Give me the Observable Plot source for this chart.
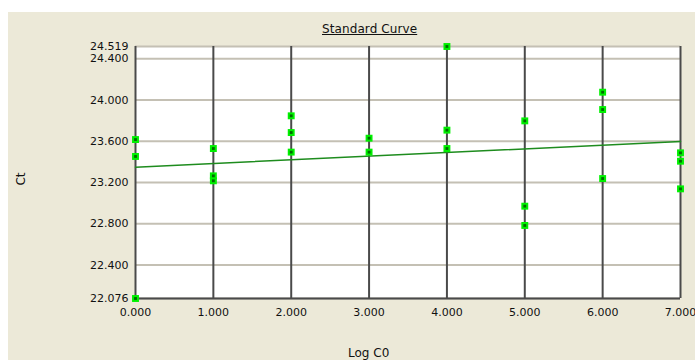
<!DOCTYPE html>
<html>
<head>
<meta charset="utf-8">
<script src="https://cdn.jsdelivr.net/npm/d3@7"></script>
<script src="https://cdn.jsdelivr.net/npm/@observablehq/plot@0.6"></script>
<style>
  html, body { margin: 0; padding: 0; background: #ffffff; }
  #panel { position: absolute; left: 8px; top: 12px; width: 687px; height: 348px; background: #ECE9D8; overflow: hidden; }
  #panel svg { position: absolute; left: 0; top: 0; background: transparent; }
  .lbl { position: absolute; font-family: "DejaVu Sans", sans-serif; font-size: 12px; color: #111; white-space: nowrap; }
</style>
</head>
<body>
<div id="panel">
  <div class="lbl" id="title" style="left:314px; top:10px; text-decoration: underline; letter-spacing:0.1px;">Standard Curve</div>
  <div class="lbl" id="ylab" style="left:6px; top:160px; transform: rotate(-90deg); transform-origin: center;">Ct</div>
  <div class="lbl" id="xlab" style="left:340px; top:334px;">Log C0</div>
</div>
<script>
// Standard curve data (Log C0 vs Ct)
const logC0 = [0, 0, 0, 1, 1, 1, 2, 2, 2, 3, 3, 4, 4, 4, 5, 5, 5, 6, 6, 6, 7, 7, 7];
const ct = [23.617, 23.453, 22.076, 23.530, 23.265, 23.217, 23.847, 23.685, 23.495,
            23.630, 23.495, 24.519, 23.708, 23.530, 23.798, 22.971, 22.784,
            24.076, 23.908, 23.239, 23.488, 23.407, 23.139];
// Regression line endpoints
const fitX = [0, 7];
const fitY = [23.349, 23.598];
// Axis ticks
const xTicks = [0, 1, 2, 3, 4, 5, 6, 7];
const yTicks = [22.076, 22.4, 22.8, 23.2, 23.6, 24.0, 24.4, 24.519];

const points = logC0.map((x, i) => ({x, y: ct[i]}));
const fit = fitX.map((x, i) => ({x, y: fitY[i]}));

const chart = Plot.plot({
  width: 687,
  height: 348,
  marginLeft: 127,
  marginRight: 15,
  marginTop: 34,
  marginBottom: 62,
  style: {background: "transparent", fontFamily: "DejaVu Sans, sans-serif", fontSize: "11px", color: "#111"},
  x: {domain: [0, 7]},
  y: {domain: [22.076, 24.519]},
  marks: [
    Plot.frame({fill: "white", stroke: null}),
    Plot.ruleY(yTicks, {stroke: "#c4c0b4", strokeWidth: 2}),
    Plot.ruleX(xTicks, {stroke: "#4a4a4a", strokeWidth: 2}),
    Plot.ruleY([22.076], {stroke: "#4a4a4a", strokeWidth: 2}),
    Plot.axisX({ticks: xTicks, tickSize: 0, tickPadding: 10, tickFormat: d3.format(".3f"), label: null, fontSize: 11, style: {letterSpacing: "0.6px"}}),
    Plot.axisY({ticks: yTicks, tickSize: 0, tickPadding: 7, tickFormat: d3.format(".3f"), label: null, fontSize: 11, style: {letterSpacing: "0.6px"}}),
    Plot.line(fit, {x: "x", y: "y", stroke: "#1e8c1e", strokeWidth: 1.5}),
    Plot.dot(points, {x: "x", y: "y", symbol: "square", r: 3.9, fill: "#00f000", stroke: null}),
    Plot.dot(points, {x: "x", y: "y", symbol: "square", r: 1.6, fill: "#006a00", stroke: null})
  ]
});
document.getElementById("panel").prepend(chart);
</script>
</body>
</html>
